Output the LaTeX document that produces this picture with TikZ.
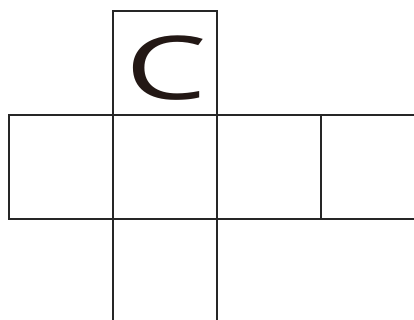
\documentclass[tikz,border=0pt]{standalone}
\usepackage{fontspec}
\setmainfont{Open Sans}
\definecolor{ink}{RGB}{35,24,21}
\begin{document}
\begin{tikzpicture}[x=1pt,y=-1pt,
  face/.style={draw=black!85,line width=1.1pt,minimum width=104pt,minimum height=104pt,inner sep=0pt,outer sep=0pt},
  letter/.style={font=\fontsize{88}{88}\selectfont, text=ink, inner sep=0pt}]
\useasboundingbox (0,0) rectangle (414,320);
\fill[white] (0,0) rectangle (414,320);
\node[face] (top) at (165,63) {};
\node[face] (m1) at (61,167) {};
\node[face] (m2) at (165,167) {};
\node[face] (m3) at (269,167) {};
\node[face] (m4) at (373,167) {};
\node[face,minimum height=110pt] (bot) at (165,274) {};
\node[letter,xscale=1.47,anchor=base] (c) at (166,100) {C};
\end{tikzpicture}
\end{document}
